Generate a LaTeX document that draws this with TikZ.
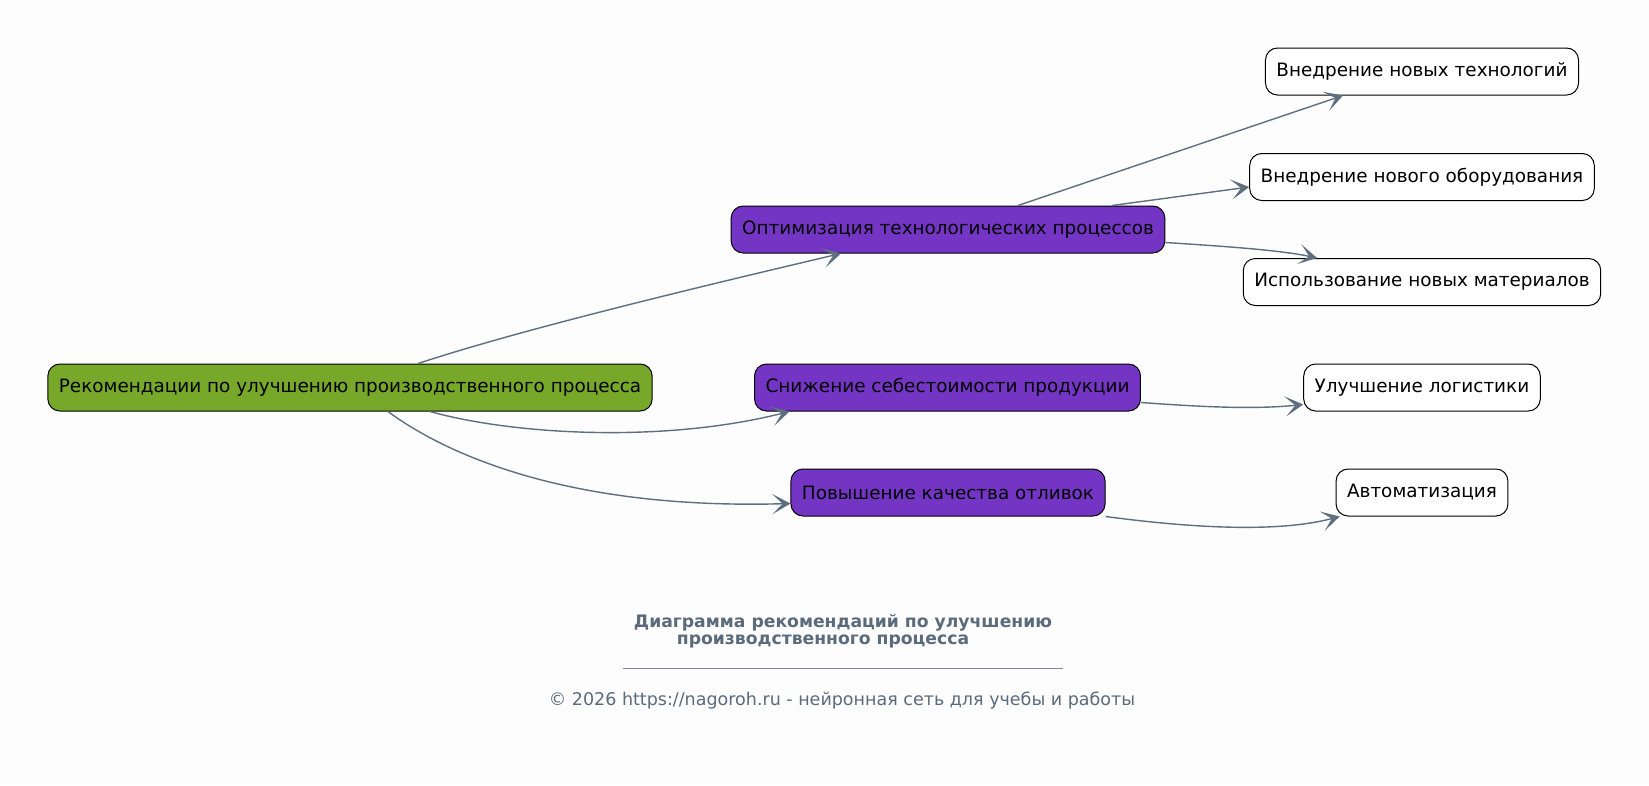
\documentclass[tikz,border=0pt]{standalone}
\usepackage{fontspec}
\setmainfont{DejaVu Sans}
\usetikzlibrary{arrows.meta,calc}
\definecolor{bgc}{HTML}{FDFDFD}
\definecolor{rootgreen}{HTML}{77A82A}
\definecolor{optpurple}{HTML}{7535C4}
\definecolor{edgec}{HTML}{5F6F7F}
\definecolor{titlec}{HTML}{5B6B7B}
\tikzset{
  box/.style={draw=black, line width=1pt, rounded corners=12pt, minimum height=47pt,
    inner xsep=11pt, font=\fontsize{18.4}{22}\selectfont, text=black},
  rootbox/.style={box, fill=rootgreen},
  midbox/.style={box, fill=optpurple},
  leafbox/.style={box, fill=white},
  conn/.style={draw=edgec, line width=1.4pt, -{Stealth[length=18pt,width=20pt,inset=10pt]}},
}
\begin{document}
\begin{tikzpicture}[x=1pt,y=-1pt]
\fill[bgc] (0,0) rectangle (1649,785);
\useasboundingbox (0,0) rectangle (1649,785);

\node[rootbox] (root) at (350,387.5) {Рекомендации по улучшению производственного процесса};
\node[midbox] (opt) at (948,229.5) {Оптимизация технологических процессов};
\node[midbox] (sniz) at (947.5,387.5) {Снижение себестоимости продукции};
\node[midbox] (pov) at (948,492.5) {Повышение качества отливок};
\node[leafbox] (tech) at (1422,71.5) {Внедрение новых технологий};
\node[leafbox] (obor) at (1422,177) {Внедрение нового оборудования};
\node[leafbox] (isp) at (1422,282) {Использование новых материалов};
\node[leafbox] (log) at (1422,387.5) {Улучшение логистики};
\node[leafbox] (avt) at (1422,492.5) {Автоматизация};

\draw[conn] ([xshift=68pt]root.north) .. controls (490,340) and (600,310) .. ([xshift=-107pt]opt.south);
\draw[conn] ([xshift=80pt]root.south) .. controls (510,434) and (660,444) .. ([xshift=-158pt]sniz.south);
\draw[conn] ([xshift=38pt]root.south) .. controls (440,450) and (560,510) .. ([yshift=-11pt]pov.west);
\draw[conn] ([xshift=70pt]opt.north) -- ([xshift=-79pt]tech.south);
\draw[conn] ([xshift=164pt]opt.north) -- ([yshift=-10pt]obor.west);
\draw[conn] ([yshift=-13pt]opt.east) .. controls (1220,246) and (1280,250) .. ([xshift=-105pt]isp.north);
\draw[conn] ([yshift=-15pt]sniz.east) .. controls (1190,406) and (1250,410) .. ([yshift=-17pt]log.west);
\draw[conn] (pov.south east) .. controls (1170,525) and (1270,535) .. ([xshift=4pt]avt.south west);

\node[font=\fontsize{17.2}{20}\bfseries, text=titlec] (t1) at (843,622.5) {Диаграмма рекомендаций по улучшению};
\node[font=\fontsize{17.2}{20}\bfseries, text=titlec] (t2) at (823,641.5) {производственного процесса};
\coordinate (ul) at (623,668);
\coordinate (ur) at (1063,668);
\draw[titlec!80, line width=0.6pt] (ul) -- (ur);
\node[font=\fontsize{17.5}{20}\selectfont, text=titlec] (copy) at (842,700.5) {© 2026 https://nagoroh.ru - нейронная сеть для учебы и работы};
\end{tikzpicture}
\end{document}
